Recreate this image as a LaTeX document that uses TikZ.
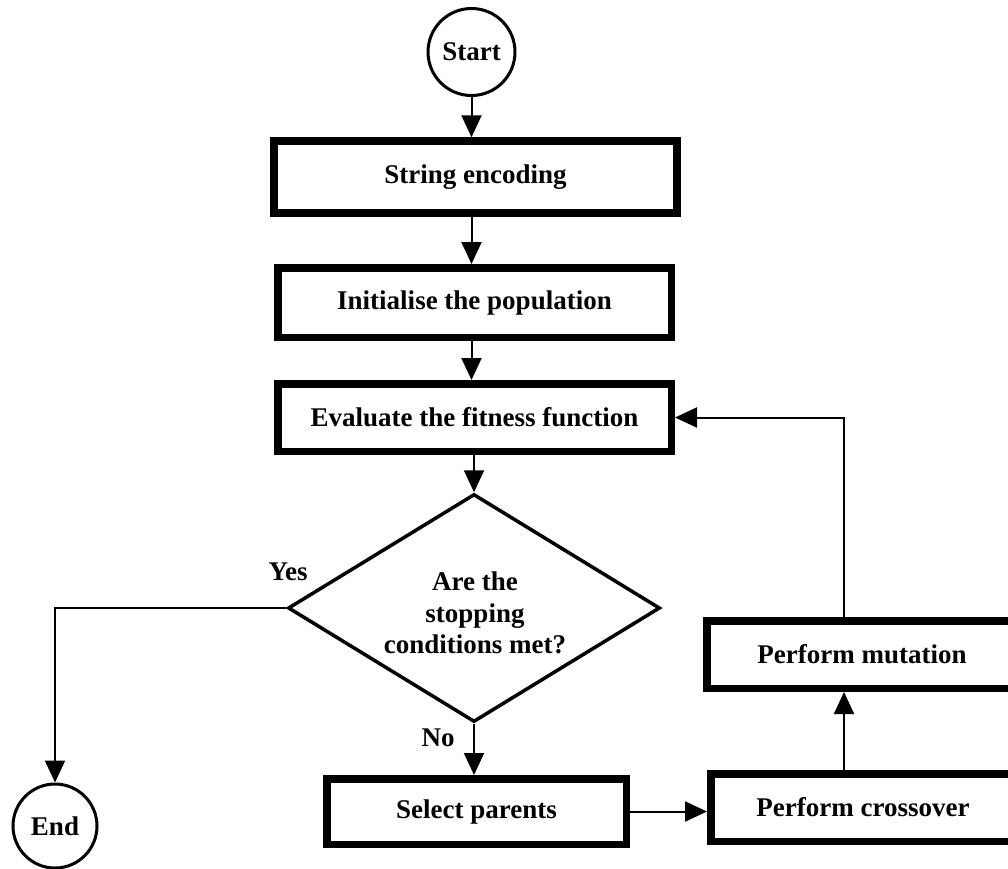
\documentclass[tikz,border=0pt]{standalone}
\usepackage{fontspec}
\setmainfont{Liberation Serif}
\usetikzlibrary{arrows.meta,shapes.geometric}
\begin{document}
\begin{tikzpicture}[x=1pt,y=-1pt,
  font=\fontsize{27}{31.7}\selectfont\bfseries,
  stepbox/.style={draw, line width=7.5pt, inner sep=0pt, align=center},
  term/.style={circle, draw, line width=3pt, inner sep=0pt},
  decision/.style={diamond, draw, line width=3.5pt, inner sep=0pt, align=center},
  flow/.style={line width=2pt, -{Triangle[width=20pt,length=22pt]}},
  lbl/.style={inner sep=0pt}]
\useasboundingbox (0,0) rectangle (1008,868);
\clip (0,0) rectangle (1008,868);

% main column
\node[term, minimum size=87pt] (start) at (471.5,52) {Start};
\node[stepbox, minimum width=403pt, minimum height=72pt] (enc) at (475.5,177) {String encoding};
\node[stepbox, minimum width=393.5pt, minimum height=69.5pt] (ini) at (474.5,302.5) {Initialise the population};
\node[stepbox, minimum width=393.5pt, minimum height=67.5pt] (ev) at (474.5,417.5) {Evaluate the fitness function};
\node[decision, aspect=1.63, minimum width=372pt, minimum height=228pt] (dec) at (474,608) {};
\node[align=center, inner sep=0pt] (q) at (475,613) {Are the\\stopping\\conditions met?};
\node[stepbox, minimum width=299.5pt, minimum height=65.5pt] (sel) at (476.5,811.5) {Select parents};

% loop on the right
\node[stepbox, minimum width=304.5pt, minimum height=67.5pt] (cro) at (863,807.5) {Perform crossover};
\node[stepbox, minimum width=310.5pt, minimum height=67.5pt] (mut) at (862,654.5) {Perform mutation};

% terminal
\node[term, minimum size=84pt] (end) at (55,826) {End};

% branch labels
\node[lbl] (yes) at (288,572) {Yes};
\node[lbl] (no) at (438,738) {No};

\coordinate (loopx) at (844,0);

% connectors
\draw[flow] (start) -- (start |- enc.north);
\draw[flow] (enc.south -| start) -- (ini.north -| start);
\draw[flow] (ini.south -| start) -- (ev.north -| start);
\draw[flow] (ev.south -| dec) -- (dec.north);
\draw[flow] (dec.west) -| (end.north);
\draw[flow] (dec.south) -- (dec.south |- sel.north);
\draw[flow] (sel.east) -- (sel.east -| cro.west);
\draw[flow] (cro.north -| loopx) -- (mut.south -| loopx);
\draw[flow] (mut.north -| loopx) |- (ev.east);
\end{tikzpicture}
\end{document}
